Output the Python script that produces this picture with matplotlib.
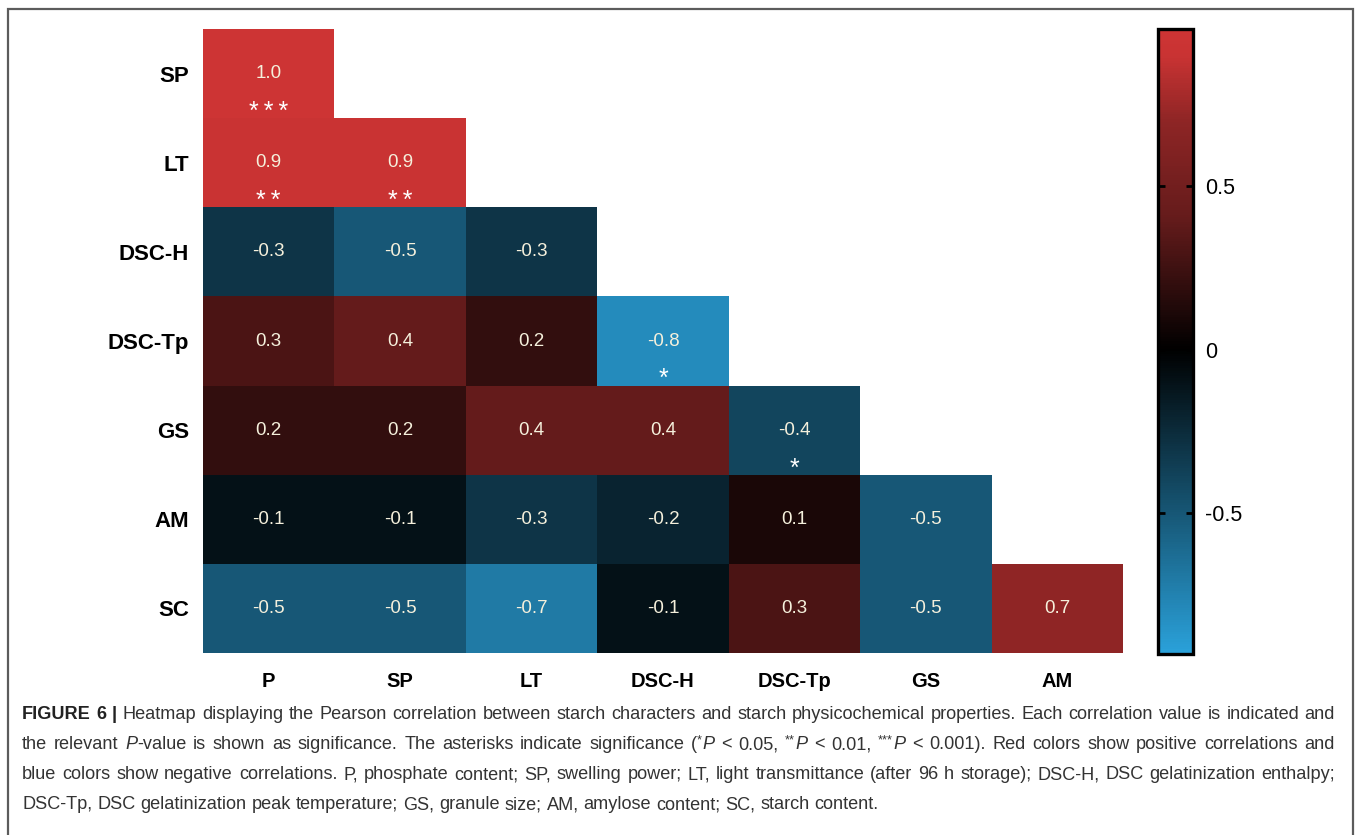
import numpy as np
import matplotlib
matplotlib.use("Agg")
import matplotlib.pyplot as plt
from matplotlib.colors import LinearSegmentedColormap, Normalize
from matplotlib.cm import ScalarMappable
from matplotlib.patches import Rectangle

# ---- data -------------------------------------------------------------
row_labels = ["SP", "LT", "DSC-H", "DSC-Tp", "GS", "AM", "SC"]
col_labels = ["P", "SP", "LT", "DSC-H", "DSC-Tp", "GS", "AM"]

# lower-triangle correlation values, one list per row
r_sp = [1.0]
r_lt = [0.9, 0.9]
r_dsch = [-0.3, -0.5, -0.3]
r_dsctp = [0.3, 0.4, 0.2, -0.8]
r_gs = [0.2, 0.2, 0.4, 0.4, -0.4]
r_am = [-0.1, -0.1, -0.3, -0.2, 0.1, -0.5]
r_sc = [-0.5, -0.5, -0.7, -0.1, 0.3, -0.5, 0.7]

# significance marks, same layout
s_sp = ["***"]
s_lt = ["**", "**"]
s_dsch = ["", "", ""]
s_dsctp = ["", "", "", "*"]
s_gs = ["", "", "", "", "*"]
s_am = ["", "", "", "", "", ""]
s_sc = ["", "", "", "", "", "", ""]

value_rows = [r_sp, r_lt, r_dsch, r_dsctp, r_gs, r_am, r_sc]
star_rows = [s_sp, s_lt, s_dsch, s_dsctp, s_gs, s_am, s_sc]

cbar_ticks = [-0.5, 0, 0.5]
cbar_ticklabels = ["-0.5", "0", "0.5"]
vmin, vmax = -0.93, 0.98

# ---- figure -----------------------------------------------------------
W, H = 1357, 835
fig = plt.figure(figsize=(W / 100, H / 100), dpi=100)
plt.rcParams["font.family"] = ["Liberation Sans", "DejaVu Sans"]


def fx(px):
    return px / W


def fy(py):
    return 1 - py / H


def pos(v):
    return (v - vmin) / (vmax - vmin)


# diverging map: light blue -> black -> red
cmap = LinearSegmentedColormap.from_list(
    "bkr", [(0.0, "#2aa1da"), (pos(0), "#000000"), (pos(0.4), "#641b1b"),
            (pos(0.7), "#8e2525"), (pos(0.9), "#c93333"), (1.0, "#cd3434")])
norm = Normalize(vmin=vmin, vmax=vmax)

n = len(row_labels)
matrix = np.full((n, n), np.nan)
for i, vals in enumerate(value_rows):
    for j, v in enumerate(vals):
        matrix[i, j] = v

ax = fig.add_axes([fx(203), fy(653), fx(1123) - fx(203), (653 - 29) / H])
ax.pcolormesh(np.arange(n + 1), np.arange(n + 1), np.ma.masked_invalid(matrix),
              cmap=cmap, norm=norm)
ax.set_xlim(0, n)
ax.set_ylim(n, 0)
for s in ax.spines.values():
    s.set_visible(False)
ax.set_xticks(np.arange(n) + 0.5)
ax.set_xticklabels(col_labels, fontsize=14.5, fontweight="bold")
ax.set_yticks(np.arange(n) + 0.5)
ax.set_yticklabels(row_labels, fontsize=16, fontweight="bold")
ax.tick_params(axis="x", length=0, pad=14)
ax.tick_params(axis="y", length=0, pad=10)

for i, (vals, stars) in enumerate(zip(value_rows, star_rows)):
    for j, v in enumerate(vals):
        ax.text(j + 0.5, i + 0.5, f"{v:.1f}", ha="center", va="center",
                fontsize=13.5, color="#f5f0dc")
        if stars[j]:
            ax.text(j + 0.5, i + 0.5 + 0.43, "\u2009".join(stars[j]),
                    ha="center", va="center", fontsize=18, color="white")

# ---- colour bar -------------------------------------------------------
cax = fig.add_axes([fx(1158), fy(654), (1193 - 1158) / W, (654 - 29) / H])
cb = fig.colorbar(ScalarMappable(norm=norm, cmap=cmap), cax=cax)
cb.set_ticks(cbar_ticks)
cb.set_ticklabels(cbar_ticklabels)
cb.outline.set_linewidth(2.4)
cb.outline.set_edgecolor("black")
cax.tick_params(direction="in", length=5, width=2, left=True, right=True,
                labelleft=False, labelright=True, labelsize=15.5, pad=9,
                color="black")

# ---- frame ------------------------------------------------------------
fig.add_artist(Rectangle((fx(8), fy(H + 20)), fx(1353) - fx(8),
                         (H + 20 - 9) / H, transform=fig.transFigure,
                         fill=False, ec="#5c5c5c", lw=1.6, clip_on=False))

# ---- caption ----------------------------------------------------------
cap_color = "#333333"
cap_lines = [
    [("FIGURE 6 |", "b"),
     (" Heatmap displaying the Pearson correlation between starch characters "
      "and starch physicochemical properties. Each correlation value is "
      "indicated and", "n")],
    [("the relevant ", "n"), ("P", "i"),
     ("-value is shown as significance. The asterisks indicate significance (",
      "n"),
     ("*", "s"), ("P", "i"), (" < 0.05, ", "n"), ("**", "s"), ("P", "i"),
     (" < 0.01, ", "n"), ("***", "s"), ("P", "i"),
     (" < 0.001). Red colors show positive correlations and", "n")],
    [("blue colors show negative correlations. P, phosphate content; SP, "
      "swelling power; LT, light transmittance (after 96 h storage); DSC-H, "
      "DSC gelatinization enthalpy;", "n")],
    [("DSC-Tp, DSC gelatinization peak temperature; GS, granule size; AM, "
      "amylose content; SC, starch content.", "n")],
]
cap_baselines = [719, 749, 779, 809]
cap_left, cap_right = 22, 1335

renderer = fig.canvas.get_renderer()


def split_words(runs):
    words = [[]]
    for text, style in runs:
        parts = text.split(" ")
        for k, p in enumerate(parts):
            if k > 0:
                words.append([])
            if p:
                words[-1].append((p, style))
    return [w for w in words if w]


def make_run(text, style, fs, y_px):
    kw = dict(fontsize=fs, color=cap_color, va="baseline", ha="left")
    y = y_px
    if style == "b":
        kw.update(fontweight="bold", color="#222222")
    elif style == "i":
        kw.update(fontstyle="italic")
    elif style == "s":
        kw.update(fontsize=fs * 0.7)
        y = y_px - fs * 0.45
    t = fig.text(0, fy(y), text, **kw)
    w = t.get_window_extent(renderer).width
    return t, w


def space_width(fs):
    a, wa = make_run("x x", "n", fs, 0)
    b, wb = make_run("xx", "n", fs, 0)
    a.remove()
    b.remove()
    return wa - wb


def line_width(runs, fs):
    total = 0
    words = split_words(runs)
    for word in words:
        for text, style in word:
            t, w = make_run(text, style, fs, 0)
            total += w
            t.remove()
    return total + space_width(fs) * (len(words) - 1)


# caption size: widest justified line at its natural width fills the column
widest = max(line_width(r, 12.0) for r in cap_lines[:-1])
fs_cap = 12.0 * (cap_right - cap_left - 6) / widest


def place_line(runs, y_px, justify):
    words = split_words(runs)
    placed = []
    for word in words:
        items = [make_run(text, style, fs_cap, y_px) for text, style in word]
        placed.append(items)
    widths = [sum(w for _, w in items) for items in placed]
    if justify and len(words) > 1:
        gap = (cap_right - cap_left - sum(widths)) / (len(words) - 1)
    else:
        gap = space_width(fs_cap)
    x = cap_left
    for items in placed:
        for t, w in items:
            t.set_x(fx(x))
            x += w
        x += gap


for k, (runs, yb) in enumerate(zip(cap_lines, cap_baselines)):
    place_line(runs, yb, justify=(k < len(cap_lines) - 1))

fig.savefig("out.png", dpi=100)
